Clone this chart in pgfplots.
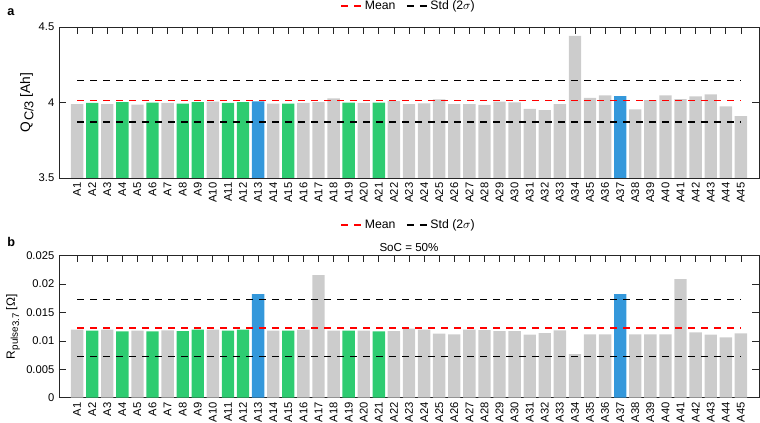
\documentclass[border=0pt]{standalone}
\usepackage{fontspec}
\setmainfont{Liberation Sans}
\usepackage{pgfplots}
\pgfplotsset{compat=1.18}
\definecolor{bgray}{RGB}{204,204,204}
\definecolor{bgreen}{RGB}{46,204,113}
\definecolor{bblue}{RGB}{52,152,219}
\definecolor{axc}{RGB}{38,38,38}
\newcommand{\subA}[1]{\kern0.5pt\raisebox{-0.45ex}{\fontsize{9.6}{10}\selectfont #1}}
\newcommand{\subB}[1]{\raisebox{-0.45ex}{\fontsize{7.4}{8}\selectfont #1}}
\newcommand{\subC}[1]{\raisebox{-0.25ex}{\fontsize{7.2}{8}\selectfont #1}}
\pgfplotsset{
 myaxis/.style={
   scale only axis, width=525pt, anchor=south west,
   xmin=-0.2, xmax=46.2,
   xtick={1,...,45},
   xticklabels={A1,A2,A3,A4,A5,A6,A7,A8,A9,A10,A11,A12,A13,A14,A15,A16,A17,A18,A19,A20,A21,A22,A23,A24,A25,A26,A27,A28,A29,A30,A31,A32,A33,A34,A35,A36,A37,A38,A39,A40,A41,A42,A43,A44,A45},
   x tick label style={rotate=90, anchor=east, font=\fontsize{8.4}{9}\selectfont},
   y tick label style={font=\fontsize{8.4}{9}\selectfont},
   axis line style={axc, line width=0.6pt},
   major tick style={axc, line width=0.6pt},
   major tick length=5pt,
   tick align=inside,
   scaled y ticks=false,
   legend style={draw=none, fill=none, font=\fontsize{9.2}{10}\selectfont, legend columns=2,
     /tikz/every even column/.append style={column sep=6pt}},
   legend image code/.code={\draw[##1] (0pt,0pt) -- (15pt,0pt);},
   every axis y label/.style={rotate=90, anchor=base, font=\fontsize{10.3}{11}\selectfont},
   every axis title shift=0pt,
   mybar/.style={ybar, bar shift=0pt, bar width=0.82, draw=none, forget plot},
   myline/.style={line width=1.2pt, dash pattern=on 5.25pt off 4.5pt},
 }
}
\begin{document}
\begin{tikzpicture}
\useasboundingbox (0,0) rectangle (570pt,316.5pt);
% ---------- panel a ----------
\begin{axis}[myaxis, at={(44.25pt,183pt)}, height=113.25pt,
  ymin=3.5, ymax=4.5, ytick={3.5,4,4.5}, yticklabels={3.5,4,4.5},
  ylabel={Q\subA{C/3} [Ah]},
  y label style={at={(axis description cs:-0.0414,0.5)}},
  legend style={at={(0.5,1.139)}, anchor=center}]
\addplot[mybar, fill=bgray] coordinates {
(1,3.990) (3,3.990) (5,3.986) (7,3.997) (10,4.005) (14,3.992) (16,3.997) (17,4.003) (18,4.027) (20,3.997)
(22,4.010) (23,3.990) (24,3.994) (25,4.021) (26,3.990) (27,3.990) (28,3.984) (29,4.005) (30,4.001)
(31,3.957) (32,3.949) (33,3.990) (34,4.442) (35,4.030) (36,4.047) (38,3.955) (39,4.016) (40,4.047)
(41,4.023) (42,4.041) (43,4.054) (44,3.975) (45,3.909)};
\addplot[mybar, fill=bgreen] coordinates {
(2,3.997) (4,4.003) (6,3.999) (8,3.992) (9,4.003) (11,3.997) (12,4.003) (15,3.992) (19,3.999) (21,3.999)};
\addplot[mybar, fill=bblue] coordinates {(13,4.008) (37,4.043)};
\addplot[myline, red] coordinates {(1,4.013) (45,4.013)};
\addlegendentry{Mean}
\addplot[myline, black] coordinates {(1,4.146) (45,4.146)};
\addlegendentry{Std (2$\sigma$)}
\addplot[myline, black, forget plot] coordinates {(1,3.869) (45,3.869)};
\end{axis}
% ---------- panel b ----------
\begin{axis}[myaxis, at={(44.25pt,18.2pt)}, height=106.5pt,
  ymin=0, ymax=0.025, ytick={0,0.005,0.01,0.015,0.02,0.025},
  yticklabels={0,0.005,0.01,0.015,0.02,0.025},
  ylabel={\fontsize{9}{10}\selectfont R\subB{pulse\subC{3.7}} [Ω]},
  y label style={at={(axis description cs:-0.0629,0.5)}},
  title={SoC = 50\%},
  title style={at={(0.5,1)}, anchor=base, yshift=3.5pt, inner sep=0pt, font=\fontsize{8.7}{9}\selectfont},
  legend style={at={(0.5,1.216)}, anchor=center}]
\addplot[mybar, fill=bgray] coordinates {
(1,0.01197) (3,0.01197) (5,0.0118) (7,0.01185) (10,0.01197) (14,0.0118) (16,0.01197) (17,0.0216) (18,0.0118) (20,0.0118)
(22,0.01174) (23,0.01215) (24,0.01197) (25,0.01127) (26,0.01115) (27,0.01197) (28,0.01191) (29,0.01174) (30,0.01174)
(31,0.01109) (32,0.01138) (33,0.01185) (34,0.00769) (35,0.01115) (36,0.01115) (38,0.01115) (39,0.01115) (40,0.01115)
(41,0.02089) (42,0.0115) (43,0.01109) (44,0.01062) (45,0.01133)};
\addplot[mybar, fill=bgreen] coordinates {
(2,0.0118) (4,0.01168) (6,0.01168) (8,0.01174) (9,0.01197) (11,0.0118) (12,0.01197) (15,0.0118) (19,0.0118) (21,0.01168)};
\addplot[mybar, fill=bblue] coordinates {(13,0.01825) (37,0.01825)};
\addplot[myline, red] coordinates {(1,0.01227) (45,0.01227)};
\addlegendentry{Mean}
\addplot[myline, black] coordinates {(1,0.01731) (45,0.01731)};
\addlegendentry{Std (2$\sigma$)}
\addplot[myline, black, forget plot] coordinates {(1,0.00728) (45,0.00728)};
\end{axis}
\node[anchor=base west, inner sep=0pt, font=\bfseries\fontsize{9.5}{10}\selectfont] at (5.25pt,304.5pt) {a};
\node[anchor=base west, inner sep=0pt, font=\bfseries\fontsize{9.5}{10}\selectfont] at (5.25pt,132pt) {b};
\end{tikzpicture}
\end{document}
